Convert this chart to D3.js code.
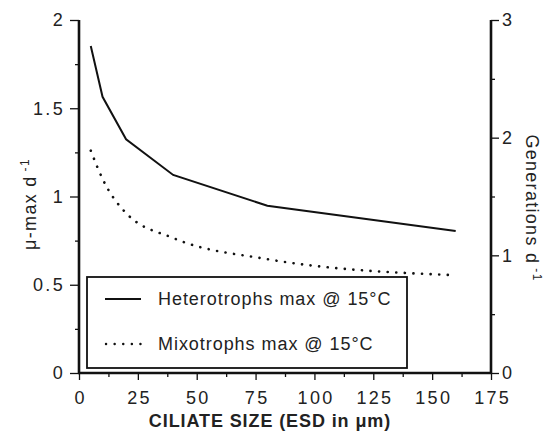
<!DOCTYPE html>
<html><head><meta charset="utf-8">
<script src="https://cdnjs.cloudflare.com/ajax/libs/d3/7.8.5/d3.min.js"></script>
<style>body{margin:0;background:#fff}svg{display:block}text{font-family:"Liberation Sans",Arial,sans-serif;fill:#222}</style>
</head><body><svg id="c" width="550" height="432"></svg>
<script>
const sizes = [5, 10, 20, 40, 80, 160];
const heterotrophs = [1.853, 1.565, 1.324, 1.122, 0.948, 0.805];
const mixoSizes = [5, 10, 20, 40, 80, 158];
const mixotrophs = [1.26, 1.10, 0.906, 0.765, 0.645, 0.555];
const xTicks = [0, 25, 50, 75, 100, 125, 150, 175];
const yLeftTicks = [0, 0.5, 1, 1.5, 2];
const yRightTicks = [0, 1, 2, 3];
const legendLabels = ["Heterotrophs max @ 15°C", "Mixotrophs max @ 15°C"];

const svg = d3.select("#c");
const x = d3.scaleLinear().domain([0, 175]).range([79, 491]);
const y = d3.scaleLinear().domain([0, 2]).range([373, 20]);
const y2 = d3.scaleLinear().domain([0, 3]).range([373, 20]);

function styleAxis(g){
  g.select(".domain").remove();
  g.selectAll("text").style("font-size","18px").style("letter-spacing","2.3px").attr("fill","#222");
  g.selectAll("line").attr("stroke","#111").attr("stroke-width",1.3);
}
// minor ticks
styleAxis(svg.append("g").attr("transform","translate(79,0)")
  .call(d3.axisLeft(y).tickValues(d3.range(0.25,2,0.5)).tickSize(4).tickFormat("")));
styleAxis(svg.append("g").attr("transform","translate(491,0)")
  .call(d3.axisRight(y2).tickValues([0.5,1.5,2.5]).tickSize(4).tickFormat("")));
styleAxis(svg.append("g").attr("transform","translate(0,373)")
  .call(d3.axisBottom(x).tickValues(d3.range(12.5,175,25)).tickSize(4).tickFormat("")));

const gL = svg.append("g").attr("transform","translate(79,0)")
  .call(d3.axisLeft(y).tickValues(yLeftTicks).tickSize(9).tickPadding(5).tickFormat(d=>String(d)));
styleAxis(gL);
const gR = svg.append("g").attr("transform","translate(491,0)")
  .call(d3.axisRight(y2).tickValues(yRightTicks).tickSize(8).tickPadding(3).tickFormat(d=>String(d)));
styleAxis(gR);
const gX = svg.append("g").attr("transform","translate(0,373)")
  .call(d3.axisBottom(x).tickValues(xTicks).tickSize(7).tickPadding(11).tickFormat(d=>String(d)));
styleAxis(gX);
gX.selectAll("text").attr("dx","1.1px");

// axis lines
svg.append("line").attr("x1",79).attr("x2",79).attr("y1",y(2)).attr("y2",y(0)).attr("stroke","#111").attr("stroke-width",2.6);
svg.append("line").attr("x1",491).attr("x2",491).attr("y1",y2(3)).attr("y2",y2(0)).attr("stroke","#111").attr("stroke-width",2.6);
svg.append("line").attr("x1",78).attr("x2",492).attr("y1",373).attr("y2",373).attr("stroke","#111").attr("stroke-width",2.4);

// lines
const hLine = d3.line().x((d,i)=>x(sizes[i])).y(d=>y(d));
const mLine = d3.line().x((d,i)=>x(mixoSizes[i])).y(d=>y(d)).curve(d3.curveMonotoneX);
svg.append("path").datum(heterotrophs).attr("d",hLine).attr("fill","none").attr("stroke","#111").attr("stroke-width",2);
svg.append("path").datum(mixotrophs).attr("d",mLine).attr("fill","none").attr("stroke","#111")
  .attr("stroke-width",2.6).attr("stroke-linecap","round").attr("stroke-dasharray","0.1,8.5");

// legend
svg.append("rect").attr("x",87).attr("y",277).attr("width",320).attr("height",91).attr("fill","#fff").attr("stroke","#111").attr("stroke-width",1.8);
svg.append("line").attr("x1",105).attr("x2",141).attr("y1",299).attr("y2",299).attr("stroke","#111").attr("stroke-width",2);
svg.append("line").attr("x1",106).attr("x2",141).attr("y1",344).attr("y2",344).attr("stroke","#111").attr("stroke-width",2.4)
  .attr("stroke-linecap","round").attr("stroke-dasharray","0.1,8.5");
svg.append("text").attr("x",158).attr("y",305).style("font-size","18px").style("letter-spacing","0.95px").text(legendLabels[0]);
svg.append("text").attr("x",158).attr("y",350).style("font-size","18px").style("letter-spacing","0.95px").text(legendLabels[1]);

// axis titles
svg.append("text").attr("x",270).attr("y",427).attr("text-anchor","middle").style("font-size","18px").style("font-weight","bold").style("letter-spacing","0.9px").text("CILIATE SIZE (ESD in μm)");
svg.append("text").attr("transform","translate(36,204) rotate(-90)").attr("text-anchor","middle").style("font-size","18px").style("letter-spacing","1.3px")
  .text("μ-max d").append("tspan").attr("dy",-7).attr("dx",4).style("font-size","12px").text("-1");
svg.append("text").attr("transform","translate(526,208) rotate(90)").attr("text-anchor","middle").style("font-size","18px").style("letter-spacing","1.3px")
  .text("Generations d").append("tspan").attr("dy",-7).attr("dx",4).style("font-size","12px").text("-1");
</script></body></html>
